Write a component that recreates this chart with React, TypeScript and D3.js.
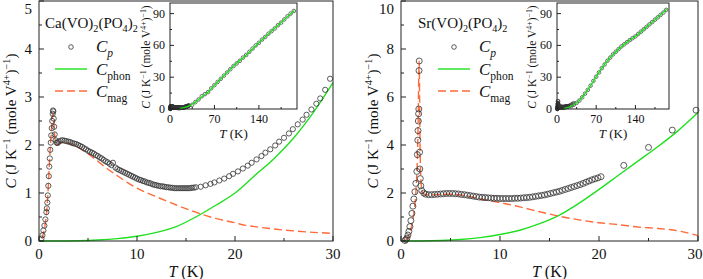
import React from 'react';
import * as d3 from 'd3';

const FONT = '"Liberation Serif", "Times New Roman", serif';
const GREEN = '#1fe01f';
const ORANGE = '#ff6a3a';
const INK = '#222';

// Ca(VO)2(PO4)2 : [T (K), C]
const caCp: [number, number][] = [
  [0.25, 0.05], [0.35, 0.12], [0.45, 0.22], [0.55, 0.32], [0.65, 0.45], [0.75, 0.6], [0.8, 0.68],
  [0.85, 0.8], [0.9, 0.95], [0.95, 1.15], [1.0, 1.35], [1.05, 1.55], [1.1, 1.72], [1.15, 1.9],
  [1.2, 2.05], [1.25, 2.2], [1.3, 2.35], [1.35, 2.5], [1.4, 2.65], [1.43, 2.72], [1.46, 2.7],
  [1.5, 2.55], [1.55, 2.38], [1.6, 2.22], [1.7, 2.1], [1.8, 2.05], [1.9, 2.04], [2.0, 2.07],
  [2.2, 2.09], [2.4, 2.1], [2.6, 2.09], [2.8, 2.08], [3.0, 2.07], [3.2, 2.06], [3.4, 2.04],
  [3.6, 2.03], [3.8, 2.02], [4.0, 2.0], [4.2, 1.98], [4.4, 1.96], [4.6, 1.93], [4.8, 1.91],
  [5.0, 1.88], [5.2, 1.86], [5.4, 1.84], [5.6, 1.82], [5.8, 1.79], [6.0, 1.77], [6.2, 1.74],
  [6.4, 1.72], [6.6, 1.69], [6.8, 1.66], [7.0, 1.64], [7.2, 1.61], [7.4, 1.58], [7.55, 1.63],
  [7.8, 1.53], [8.0, 1.5], [8.2, 1.48], [8.4, 1.46], [8.6, 1.44], [8.8, 1.42], [9.0, 1.4],
  [9.2, 1.38], [9.4, 1.36], [9.6, 1.34], [9.8, 1.32], [10.0, 1.3], [10.2, 1.28], [10.4, 1.27],
  [10.6, 1.25], [10.8, 1.24], [11.0, 1.22], [11.2, 1.21], [11.4, 1.2], [11.6, 1.18], [11.8, 1.17],
  [12.0, 1.16], [12.2, 1.15], [12.4, 1.14], [12.6, 1.14], [12.8, 1.13], [13.0, 1.12], [13.2, 1.12],
  [13.4, 1.11], [13.6, 1.11], [13.8, 1.1], [14.0, 1.1], [14.2, 1.1], [14.4, 1.1], [14.6, 1.1],
  [14.8, 1.1], [15.0, 1.1], [15.2, 1.1], [15.4, 1.1], [15.6, 1.11], [15.8, 1.11], [16.0, 1.12],
  [16.5, 1.13], [17.0, 1.16], [17.5, 1.19], [17.9, 1.22], [18.4, 1.26], [18.9, 1.3], [19.4, 1.35],
  [19.8, 1.4], [20.3, 1.45], [20.8, 1.51], [21.3, 1.57], [21.7, 1.63], [22.2, 1.7], [22.7, 1.77],
  [23.1, 1.84], [23.6, 1.91], [24.1, 1.99], [24.5, 2.07], [25.0, 2.15], [25.5, 2.24], [25.9, 2.33],
  [26.4, 2.43], [26.9, 2.53], [27.3, 2.63], [27.8, 2.74], [28.3, 2.86], [28.7, 2.97], [29.2, 3.15],
  [29.7, 3.38],
];
const caPhon: [number, number][] = [
  [0, 0], [2, 0.001], [4, 0.005], [6, 0.02], [8, 0.05], [10, 0.1], [12, 0.18], [14, 0.3],
  [16, 0.5], [18, 0.74], [20, 1.0], [22, 1.36], [24, 1.72], [26, 2.15], [28, 2.68], [30, 3.3],
];
const caMag: [number, number][] = [
  [0.3, 0.05], [0.5, 0.2], [0.7, 0.45], [0.8, 0.65], [0.9, 0.95], [1.0, 1.35], [1.1, 1.75],
  [1.2, 2.1], [1.3, 2.4], [1.38, 2.6], [1.43, 2.65], [1.5, 2.5], [1.6, 2.2], [1.7, 2.05],
  [1.8, 2.0], [2.0, 2.02], [2.5, 2.07], [3, 2.04], [4, 1.95], [5, 1.82], [6, 1.66], [7, 1.5],
  [8, 1.36], [9, 1.22], [10, 1.1], [12, 0.92], [14, 0.75], [16, 0.6], [18, 0.47], [20, 0.38],
  [21, 0.33], [22, 0.3], [24, 0.25], [26, 0.21], [28, 0.18], [30, 0.16],
];
const caInsetCp: [number, number][] = [
  [35, 4], [40, 6.5], [45, 9], [50, 12], [55, 14], [60, 16], [65, 19.5], [70, 22.5], [75, 25.5],
  [80, 28.5], [85, 31.5], [90, 34.5], [95, 37.5], [100, 40.5], [105, 43], [110, 45.5],
  [115, 48.5], [120, 51], [125, 54], [130, 57], [135, 60], [140, 62.5], [145, 65.5], [150, 68],
  [155, 71], [160, 73.5], [165, 76], [170, 79], [175, 81.5], [180, 84.5], [185, 87.5],
  [190, 90], [195, 92.5],
];
const caInsetPhon: [number, number][] = [
  [15, 0.3], [20, 0.9], [25, 1.8], [30, 3], [40, 6.5], [50, 11.5], [60, 16], [70, 22.5],
  [80, 28.5], [90, 34.5], [100, 40.5], [120, 51], [140, 62.5], [160, 73.5], [180, 84.5], [196, 93],
];

// Sr(VO)2(PO4)2 : [T (K), C]
const srCp: [number, number][] = [
  [0.4, 0.02], [0.5, 0.06], [0.6, 0.12], [0.7, 0.25], [0.8, 0.4], [0.9, 0.6], [1.0, 0.85],
  [1.1, 1.15], [1.2, 1.45], [1.3, 1.75], [1.4, 2.05], [1.5, 2.4], [1.6, 2.9], [1.65, 3.6],
  [1.7, 4.2], [1.72, 4.6], [1.75, 5.0], [1.78, 5.3], [1.8, 5.5], [1.82, 7.1], [1.84, 7.5],
  [1.88, 3.7], [1.9, 3.0], [1.95, 2.6], [2.0, 2.3], [2.1, 2.1], [2.3, 2.0], [2.5, 1.95],
  [2.8, 1.93], [3.1, 1.93], [3.4, 1.94], [3.7, 1.95], [4.0, 1.96], [4.3, 1.97], [4.6, 1.98],
  [4.9, 1.98], [5.2, 1.98], [5.5, 1.97], [5.8, 1.96], [6.1, 1.94], [6.4, 1.93], [6.7, 1.91],
  [7.0, 1.89], [7.3, 1.87], [7.6, 1.85], [7.9, 1.83], [8.2, 1.82], [8.5, 1.81], [8.8, 1.8],
  [9.1, 1.79], [9.4, 1.78], [9.7, 1.78], [10.0, 1.77], [10.3, 1.77], [10.6, 1.77], [10.9, 1.77],
  [11.2, 1.77], [11.5, 1.78], [11.8, 1.78], [12.1, 1.79], [12.4, 1.8], [12.7, 1.81], [13.0, 1.82],
  [13.3, 1.84], [13.6, 1.86], [13.9, 1.88], [14.2, 1.9], [14.5, 1.92], [14.8, 1.95], [15.1, 1.98],
  [15.4, 2.01], [15.7, 2.04], [16.0, 2.07], [16.3, 2.11], [16.6, 2.15], [16.9, 2.19], [17.2, 2.23],
  [17.5, 2.27], [17.8, 2.31], [18.1, 2.35], [18.4, 2.4], [18.7, 2.45], [19.0, 2.5], [19.3, 2.55],
  [19.6, 2.59], [19.9, 2.63], [20.2, 2.68], [22.5, 3.15], [25.0, 3.9], [27.4, 4.62], [29.8, 5.45],
];
const srPhon: [number, number][] = [
  [0, 0], [2, 0.003], [4, 0.02], [6, 0.06], [8, 0.14], [10, 0.27], [12, 0.45], [14, 0.72],
  [16, 1.08], [18, 1.58], [20, 2.15], [22, 2.75], [24, 3.35], [26, 3.95], [28, 4.6], [30, 5.35],
];
const srMag: [number, number][] = [
  [0.4, 0], [0.6, 0.1], [0.8, 0.25], [1.0, 0.5], [1.2, 0.9], [1.4, 1.5], [1.5, 2.0], [1.6, 2.8],
  [1.7, 4.2], [1.75, 5.5], [1.8, 7.0], [1.84, 7.5], [1.88, 6.0], [1.92, 4.2], [1.97, 3.0],
  [2.05, 2.3], [2.2, 2.0], [2.5, 1.93], [3, 1.92], [4, 1.94], [5, 1.95], [6, 1.92], [7, 1.85],
  [8, 1.75], [10, 1.6], [12, 1.42], [14, 1.22], [16, 1.03], [18, 0.88], [20, 0.76], [22, 0.68],
  [24, 0.58], [26, 0.52], [28, 0.42], [30, 0.22],
];
const srInsetCp: [number, number][] = [
  [25, 2.5], [30, 4], [35, 5.8], [40, 8], [45, 11], [50, 14.5], [55, 18], [60, 22], [65, 26.5],
  [70, 30.5], [75, 34.5], [80, 38.5], [85, 42], [90, 45.5], [95, 48.5], [100, 51.5], [105, 54],
  [110, 56.5], [115, 59], [120, 61], [125, 63], [130, 65], [135, 66.8], [140, 68.5], [145, 70.8],
  [150, 73], [155, 75.3], [160, 77.5], [165, 79.8], [170, 82], [175, 84.3], [180, 86.5],
  [185, 88.8], [190, 91], [195, 93.5],
];
const srInsetPhon: [number, number][] = [
  [12, 0.2], [20, 1.5], [30, 4], [40, 8], [50, 14.5], [60, 22], [70, 30.5], [80, 38.5], [90, 45.5],
  [100, 51.5], [110, 56.5], [120, 61], [130, 65], [140, 68.5], [160, 77.5], [180, 86.5], [197, 94.5],
];

const mainXTicks = [0, 10, 20, 30];
const caYTicks = [0, 1, 2, 3, 4, 5];
const srYTicks = [0, 2, 4, 6, 8, 10];
const insetXTicks = [0, 70, 140];
const insetYTicks = [0, 30, 60, 90];

type Seg = { t: string; s?: 'sup' | 'sub'; i?: boolean };

function Rich({ segs, size }: { segs: Seg[]; size: number }) {
  let cur = 0;
  return (
    <>
      {segs.map((g, k) => {
        const target = g.s === 'sup' ? -0.38 * size : g.s === 'sub' ? 0.28 * size : 0;
        const dy = target - cur;
        cur = target;
        return (
          <tspan key={k} dy={dy} fontSize={g.s ? size * 0.68 : size} fontStyle={g.i ? 'italic' : 'normal'}>
            {g.t}
          </tspan>
        );
      })}
    </>
  );
}

const yLabelSegs: Seg[] = [
  { t: 'C', i: true }, { t: ' (J K' }, { t: '−1', s: 'sup' }, { t: ' (mole V' }, { t: '4+', s: 'sup' },
  { t: ')' }, { t: '−1', s: 'sup' }, { t: ')' },
];
const tLabelSegs: Seg[] = [{ t: 'T', i: true }, { t: ' (K)' }];

type Sc = d3.ScaleLinear<number, number>;

function Axes({ x, y, xt, yt, fs, major, minor, gap, maxX }: {
  x: Sc; y: Sc; xt: number[]; yt: number[]; fs: number; major: number; minor: number; gap: number; maxX?: number;
}) {
  const [x0, x1] = x.range();
  const [y0, y1] = y.range();
  const mid = (a: number[]) => a.slice(1).map((v, i) => (v + a[i]) / 2);
  const xMinor = mid(xt);
  const yMinor = mid(yt);
  const dx = xt[1] - xt[0];
  if (xt[xt.length - 1] + dx / 2 < x.domain()[1]) xMinor.push(xt[xt.length - 1] + dx / 2);
  const dyT = yt[1] - yt[0];
  if (yt[yt.length - 1] + dyT / 2 < y.domain()[1]) yMinor.push(yt[yt.length - 1] + dyT / 2);
  return (
    <g stroke={INK} fill="none" strokeWidth={1}>
      <rect x={x0} y={y1} width={x1 - x0} height={y0 - y1} />
      {xt.map(v => <line key={'xM' + v} x1={x(v)} x2={x(v)} y1={y0} y2={y0 - major} />)}
      {xMinor.map(v => <line key={'xm' + v} x1={x(v)} x2={x(v)} y1={y0} y2={y0 - minor} />)}
      {yt.map(v => <line key={'yM' + v} x1={x0} x2={x0 + major} y1={y(v)} y2={y(v)} />)}
      {yMinor.map(v => <line key={'ym' + v} x1={x0} x2={x0 + minor} y1={y(v)} y2={y(v)} />)}
      <g stroke="none" fill="#111" fontSize={fs} fontFamily={FONT}>
        {xt.map(v => (
          <text key={'xl' + v} x={maxX ? Math.min(x(v), maxX) : x(v)} y={y0 + gap + fs * 0.72} textAnchor="middle">{v}</text>
        ))}
        {yt.map(v => (
          <text key={'yl' + v} x={x0 - gap} y={Math.max(y(v) + fs * 0.34, fs * 0.95)} textAnchor="end">{v}</text>
        ))}
      </g>
    </g>
  );
}

function Panel(p: {
  left: number; right: number; yMax: number; yt: number[]; r: number;
  cp: [number, number][]; phon: [number, number][]; mag: [number, number][];
  inset: [number, number]; insetCp: [number, number][]; insetPhon: [number, number][];
  title: Seg[]; legendX: number; titleX: number; yLabelX: number; insetLabelX: number;
}) {
  const x = d3.scaleLinear().domain([0, 30]).range([p.left, p.right]);
  const y = d3.scaleLinear().domain([0, p.yMax]).range([241, 1]);
  const ix = d3.scaleLinear().domain([0, 200]).range(p.inset);
  const iy = d3.scaleLinear().domain([0, 100]).range([109, 3]);
  const mainLine = d3.line<[number, number]>().x(d => x(d[0])).y(d => y(d[1])).curve(d3.curveMonotoneX);
  const insetLine = d3.line<[number, number]>().x(d => ix(d[0])).y(d => iy(d[1])).curve(d3.curveMonotoneX);
  const insetPts = [...p.cp, ...p.insetCp];
  const mid = (p.left + p.right) / 2;
  const lx = p.legendX;
  return (
    <g fontFamily={FONT}>
      <path d={mainLine(p.phon) ?? ''} fill="none" stroke={GREEN} strokeWidth={1.4} />
      <path d={mainLine(p.mag) ?? ''} fill="none" stroke={ORANGE} strokeWidth={1.4} strokeDasharray="8 4" />
      {p.cp.map((d, k) => (
        <circle key={k} cx={x(d[0])} cy={y(d[1])} r={p.r} fill="none" stroke="#333" strokeWidth={0.8} />
      ))}
      <Axes x={x} y={y} xt={mainXTicks} yt={p.yt} fs={15} major={5} minor={3} gap={7} maxX={695} />
      <text x={mid} y={277} textAnchor="middle" fontSize={16} fill="#111"><Rich segs={tLabelSegs} size={16} /></text>
      <text transform={`translate(${p.yLabelX},121) rotate(-90)`} textAnchor="middle" fontSize={15} fill="#111">
        <Rich segs={yLabelSegs} size={15} />
      </text>

      {/* legend */}
      <text x={p.titleX} y={28} fontSize={15} fill="#111"><Rich segs={p.title} size={15} /></text>
      <circle cx={lx + 16} cy={47} r={2.3} fill="none" stroke="#333" strokeWidth={0.8} />
      <text x={lx + 41} y={52} fontSize={17} fill="#111"><Rich segs={[{ t: 'C', i: true }, { t: 'p', s: 'sub', i: true }]} size={17} /></text>
      <line x1={lx} x2={lx + 32} y1={69} y2={69} stroke={GREEN} strokeWidth={1.4} />
      <text x={lx + 41} y={75} fontSize={17} fill="#111"><Rich segs={[{ t: 'C', i: true }, { t: 'phon', s: 'sub' }]} size={17} /></text>
      <line x1={lx} x2={lx + 32} y1={91} y2={91} stroke={ORANGE} strokeWidth={1.4} strokeDasharray="8 4" />
      <text x={lx + 41} y={97} fontSize={17} fill="#111"><Rich segs={[{ t: 'C', i: true }, { t: 'mag', s: 'sub' }]} size={17} /></text>

      {/* inset */}
      <rect x={p.inset[0]} y={3} width={p.inset[1] - p.inset[0]} height={106} fill="#fff" stroke="none" />
      {insetPts.map((d, k) => (
        <circle key={'i' + k} cx={ix(d[0])} cy={iy(d[1])} r={1.8} fill="none" stroke="#333" strokeWidth={0.7} />
      ))}
      <path d={insetLine(p.insetPhon) ?? ''} fill="none" stroke={GREEN} strokeWidth={1.4} />
      <Axes x={ix} y={iy} xt={insetXTicks} yt={insetYTicks} fs={12} major={4} minor={2} gap={5} />
      <text x={(p.inset[0] + p.inset[1]) / 2} y={138} textAnchor="middle" fontSize={13} fill="#111">
        <Rich segs={tLabelSegs} size={13} />
      </text>
      <text transform={`translate(${p.insetLabelX},57) rotate(-90)`} textAnchor="middle" fontSize={11.5} fill="#111">
        <Rich segs={yLabelSegs} size={11.5} />
      </text>
    </g>
  );
}

export default function App() {
  return (
    <svg width={703} height={279} style={{ position: 'absolute', left: 0, top: 0, background: '#fff' }}>
      <Panel
        left={39} right={333} yMax={5} yt={caYTicks} r={2.6} cp={caCp} phon={caPhon} mag={caMag}
        inset={[170, 297]} insetCp={caInsetCp} insetPhon={caInsetPhon}
        title={[{ t: 'Ca(VO)' }, { t: '2', s: 'sub' }, { t: '(PO' }, { t: '4', s: 'sub' }, { t: ')' }, { t: '2', s: 'sub' }]}
        legendX={55} titleX={45} yLabelX={16} insetLabelX={150}
      />
      <Panel
        left={401} right={698} yMax={10} yt={srYTicks} r={3} cp={srCp} phon={srPhon} mag={srMag}
        inset={[557, 669]} insetCp={srInsetCp} insetPhon={srInsetPhon}
        title={[{ t: 'Sr(VO)' }, { t: '2', s: 'sub' }, { t: '(PO' }, { t: '4', s: 'sub' }, { t: ')' }, { t: '2', s: 'sub' }]}
        legendX={438} titleX={418} yLabelX={378} insetLabelX={536}
      />
    </svg>
  );
}
